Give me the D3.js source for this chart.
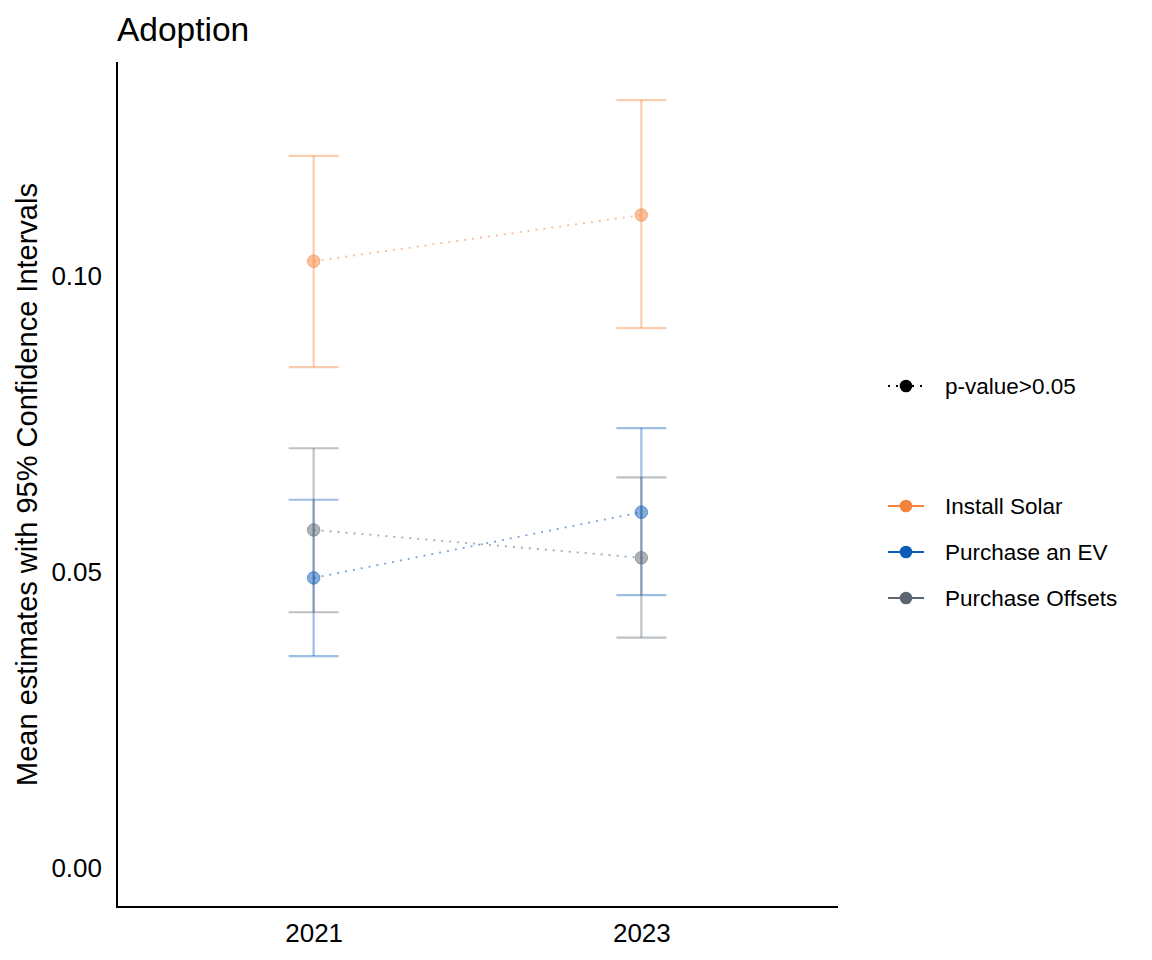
<!DOCTYPE html>
<html><head><meta charset="utf-8">
<script src="https://cdn.jsdelivr.net/npm/d3@7"></script>
<style>body{margin:0;background:#fff}svg{display:block}text{font-family:"Liberation Sans",Arial,sans-serif}</style>
</head><body>
<script>
const years = ["2021", "2023"];
const seriesNames = ["Install Solar", "Purchase an EV", "Purchase Offsets"];
const seriesColors = ["#F5823A", "#0A5CB8", "#5B6670"];
const solarMean = [0.1025, 0.1103];
const solarLow = [0.0846, 0.0912];
const solarHigh = [0.1203, 0.1297];
const evMean = [0.0490, 0.0601];
const evLow = [0.0358, 0.0461];
const evHigh = [0.0622, 0.0743];
const offsetsMean = [0.0571, 0.0524];
const offsetsLow = [0.0432, 0.0389];
const offsetsHigh = [0.0709, 0.0660];
const yTicks = [0, 0.05, 0.10];
const pLegendLabel = "p-value>0.05";

const series = [
  {name: seriesNames[0], color: seriesColors[0], mean: solarMean, low: solarLow, high: solarHigh},
  {name: seriesNames[1], color: seriesColors[1], mean: evMean, low: evLow, high: evHigh},
  {name: seriesNames[2], color: seriesColors[2], mean: offsetsMean, low: offsetsLow, high: offsetsHigh}
];

const W = 1152, H = 960;
const svg = d3.select("body").append("svg").attr("width", W).attr("height", H);
const pL = 117, pR = 838, pT = 62, pB = 907;

const x = d3.scalePoint().domain(years).range([pL, pR]).padding(0.6);
const y = d3.scaleLinear().domain([-0.00659, 0.13615]).range([pB, pT]);

// y ticks labels
const yAxis = svg.append("g").attr("transform", `translate(${pL},0)`)
  .call(d3.axisLeft(y).tickValues(yTicks).tickFormat(d3.format(".2f")).tickSize(0).tickPadding(15));
yAxis.select(".domain").remove();
yAxis.selectAll("text").attr("font-size", 26).attr("fill", "#000").attr("font-family", "Liberation Sans, Arial, sans-serif");

const xAxis = svg.append("g").attr("transform", `translate(0,${pB})`)
  .call(d3.axisBottom(x).tickSize(0).tickPadding(17));
xAxis.select(".domain").remove();
xAxis.selectAll("text").attr("font-size", 26).attr("fill", "#000").attr("font-family", "Liberation Sans, Arial, sans-serif");

// axis lines
svg.append("line").attr("x1", pL).attr("x2", pL).attr("y1", pT).attr("y2", pB + 1)
  .attr("stroke", "#000").attr("stroke-width", 2);
svg.append("line").attr("x1", pL - 1).attr("x2", pR).attr("y1", pB).attr("y2", pB)
  .attr("stroke", "#000").attr("stroke-width", 2);

// dotted connecting lines
const line = d3.line().x((d, i) => x(years[i])).y(d => y(d));
series.forEach(s => {
  svg.append("path").attr("d", line(s.mean)).attr("fill", "none")
    .attr("stroke", s.color).attr("stroke-opacity", 0.55).attr("stroke-width", 1.8)
    .attr("stroke-dasharray", "2 6");
});

// error bars
const capHalf = 25;
series.forEach(s => {
  const g = svg.append("g").attr("stroke", s.color).attr("stroke-opacity", 0.4).attr("stroke-width", 2.2);
  years.forEach((yr, i) => {
    const cx = x(yr);
    g.append("line").attr("x1", cx).attr("x2", cx).attr("y1", y(s.low[i])).attr("y2", y(s.high[i]));
    g.append("line").attr("x1", cx - capHalf).attr("x2", cx + capHalf).attr("y1", y(s.low[i])).attr("y2", y(s.low[i]));
    g.append("line").attr("x1", cx - capHalf).attr("x2", cx + capHalf).attr("y1", y(s.high[i])).attr("y2", y(s.high[i]));
  });
});

// points
series.forEach(s => {
  years.forEach((yr, i) => {
    svg.append("circle").attr("cx", x(yr)).attr("cy", y(s.mean[i])).attr("r", 6.3)
      .attr("fill", s.color).attr("fill-opacity", 0.5)
      .attr("stroke", s.color).attr("stroke-opacity", 0.5).attr("stroke-width", 1);
  });
});

// title
svg.append("text").attr("x", pL).attr("y", 41).attr("font-size", 33.5).attr("fill", "#000").text("Adoption");

// y axis title
svg.append("text").attr("transform", `translate(37,${(pT + pB) / 2}) rotate(-90)`)
  .attr("text-anchor", "middle").attr("font-size", 29).attr("fill", "#000")
  .text("Mean estimates with 95% Confidence Intervals");

// legend: p-value
const lg = svg.append("g");
lg.append("line").attr("x1", 888).attr("x2", 924).attr("y1", 386).attr("y2", 386)
  .attr("stroke", "#000").attr("stroke-width", 1.8).attr("stroke-dasharray", "2 6");
lg.append("circle").attr("cx", 906).attr("cy", 386).attr("r", 6.3).attr("fill", "#000");
lg.append("text").attr("x", 945).attr("y", 386).attr("dy", "0.35em").attr("font-size", 22.5).attr("fill", "#000").text(pLegendLabel);

// legend: series
const legY = d3.scalePoint().domain(seriesNames).range([506, 598]);
series.forEach(s => {
  const yy = legY(s.name);
  lg.append("line").attr("x1", 888).attr("x2", 924).attr("y1", yy).attr("y2", yy)
    .attr("stroke", s.color).attr("stroke-width", 2);
  lg.append("circle").attr("cx", 906).attr("cy", yy).attr("r", 6.3).attr("fill", s.color);
  lg.append("text").attr("x", 945).attr("y", yy).attr("dy", "0.35em").attr("font-size", 22.5).attr("fill", "#000").text(s.name);
});
</script>
</body></html>
